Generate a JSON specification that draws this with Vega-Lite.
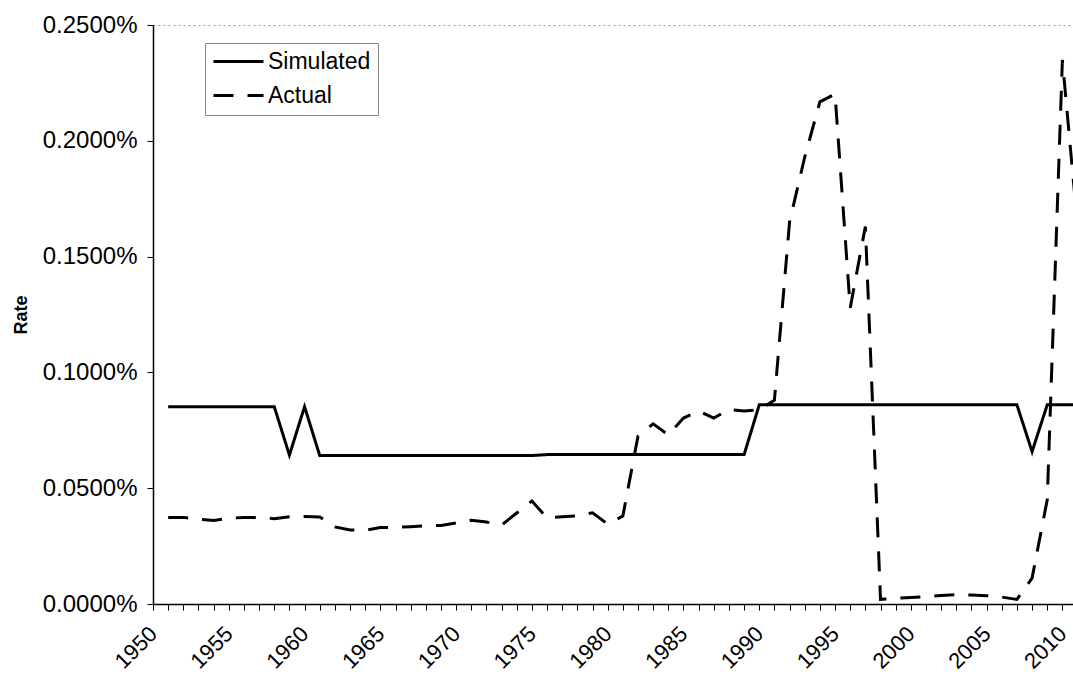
{
  "$schema": "https://vega.github.io/schema/vega-lite/v6.json",
  "width": 920,
  "height": 579,
  "autosize": {"type": "none"},
  "padding": {"left": 153, "top": 25, "right": 0, "bottom": 72},
  "background": "white",
  "config": {
    "view": {"stroke": "#9a9a9a", "strokeDash": [2, 3], "strokeWidth": 1},
    "font": "Liberation Sans"
  },
  "data": {
    "values": [
      {"year": 1951, "series": "Simulated", "rate": 0.0852},
      {"year": 1952, "series": "Simulated", "rate": 0.0852},
      {"year": 1953, "series": "Simulated", "rate": 0.0852},
      {"year": 1954, "series": "Simulated", "rate": 0.0852},
      {"year": 1955, "series": "Simulated", "rate": 0.0852},
      {"year": 1956, "series": "Simulated", "rate": 0.0852},
      {"year": 1957, "series": "Simulated", "rate": 0.0852},
      {"year": 1958, "series": "Simulated", "rate": 0.0852},
      {"year": 1959, "series": "Simulated", "rate": 0.0643},
      {"year": 1960, "series": "Simulated", "rate": 0.0852},
      {"year": 1961, "series": "Simulated", "rate": 0.0641},
      {"year": 1962, "series": "Simulated", "rate": 0.0641},
      {"year": 1963, "series": "Simulated", "rate": 0.0641},
      {"year": 1964, "series": "Simulated", "rate": 0.0641},
      {"year": 1965, "series": "Simulated", "rate": 0.0641},
      {"year": 1966, "series": "Simulated", "rate": 0.0641},
      {"year": 1967, "series": "Simulated", "rate": 0.0641},
      {"year": 1968, "series": "Simulated", "rate": 0.0641},
      {"year": 1969, "series": "Simulated", "rate": 0.0641},
      {"year": 1970, "series": "Simulated", "rate": 0.0641},
      {"year": 1971, "series": "Simulated", "rate": 0.0641},
      {"year": 1972, "series": "Simulated", "rate": 0.0641},
      {"year": 1973, "series": "Simulated", "rate": 0.0641},
      {"year": 1974, "series": "Simulated", "rate": 0.0641},
      {"year": 1975, "series": "Simulated", "rate": 0.0641},
      {"year": 1976, "series": "Simulated", "rate": 0.0645},
      {"year": 1977, "series": "Simulated", "rate": 0.0645},
      {"year": 1978, "series": "Simulated", "rate": 0.0645},
      {"year": 1979, "series": "Simulated", "rate": 0.0645},
      {"year": 1980, "series": "Simulated", "rate": 0.0645},
      {"year": 1981, "series": "Simulated", "rate": 0.0645},
      {"year": 1982, "series": "Simulated", "rate": 0.0645},
      {"year": 1983, "series": "Simulated", "rate": 0.0645},
      {"year": 1984, "series": "Simulated", "rate": 0.0645},
      {"year": 1985, "series": "Simulated", "rate": 0.0645},
      {"year": 1986, "series": "Simulated", "rate": 0.0645},
      {"year": 1987, "series": "Simulated", "rate": 0.0645},
      {"year": 1988, "series": "Simulated", "rate": 0.0645},
      {"year": 1989, "series": "Simulated", "rate": 0.0645},
      {"year": 1990, "series": "Simulated", "rate": 0.0860},
      {"year": 1991, "series": "Simulated", "rate": 0.0860},
      {"year": 1992, "series": "Simulated", "rate": 0.0860},
      {"year": 1993, "series": "Simulated", "rate": 0.0860},
      {"year": 1994, "series": "Simulated", "rate": 0.0860},
      {"year": 1995, "series": "Simulated", "rate": 0.0860},
      {"year": 1996, "series": "Simulated", "rate": 0.0860},
      {"year": 1997, "series": "Simulated", "rate": 0.0860},
      {"year": 1998, "series": "Simulated", "rate": 0.0860},
      {"year": 1999, "series": "Simulated", "rate": 0.0860},
      {"year": 2000, "series": "Simulated", "rate": 0.0860},
      {"year": 2001, "series": "Simulated", "rate": 0.0860},
      {"year": 2002, "series": "Simulated", "rate": 0.0860},
      {"year": 2003, "series": "Simulated", "rate": 0.0860},
      {"year": 2004, "series": "Simulated", "rate": 0.0860},
      {"year": 2005, "series": "Simulated", "rate": 0.0860},
      {"year": 2006, "series": "Simulated", "rate": 0.0860},
      {"year": 2007, "series": "Simulated", "rate": 0.0860},
      {"year": 2008, "series": "Simulated", "rate": 0.0658},
      {"year": 2009, "series": "Simulated", "rate": 0.0860},
      {"year": 2010, "series": "Simulated", "rate": 0.0860},
      {"year": 2011, "series": "Simulated", "rate": 0.0860},
      {"year": 1951, "series": "Actual", "rate": 0.0374},
      {"year": 1952, "series": "Actual", "rate": 0.0374},
      {"year": 1953, "series": "Actual", "rate": 0.0366},
      {"year": 1954, "series": "Actual", "rate": 0.0361},
      {"year": 1955, "series": "Actual", "rate": 0.0370},
      {"year": 1956, "series": "Actual", "rate": 0.0374},
      {"year": 1957, "series": "Actual", "rate": 0.0374},
      {"year": 1958, "series": "Actual", "rate": 0.0368},
      {"year": 1959, "series": "Actual", "rate": 0.0377},
      {"year": 1960, "series": "Actual", "rate": 0.0378},
      {"year": 1961, "series": "Actual", "rate": 0.0376},
      {"year": 1962, "series": "Actual", "rate": 0.0333},
      {"year": 1963, "series": "Actual", "rate": 0.0320},
      {"year": 1964, "series": "Actual", "rate": 0.0318},
      {"year": 1965, "series": "Actual", "rate": 0.0330},
      {"year": 1966, "series": "Actual", "rate": 0.0331},
      {"year": 1967, "series": "Actual", "rate": 0.0334},
      {"year": 1968, "series": "Actual", "rate": 0.0338},
      {"year": 1969, "series": "Actual", "rate": 0.0339},
      {"year": 1970, "series": "Actual", "rate": 0.0350},
      {"year": 1971, "series": "Actual", "rate": 0.0362},
      {"year": 1972, "series": "Actual", "rate": 0.0354},
      {"year": 1973, "series": "Actual", "rate": 0.0341},
      {"year": 1974, "series": "Actual", "rate": 0.0393},
      {"year": 1975, "series": "Actual", "rate": 0.0445},
      {"year": 1976, "series": "Actual", "rate": 0.0371},
      {"year": 1977, "series": "Actual", "rate": 0.0377},
      {"year": 1978, "series": "Actual", "rate": 0.0380},
      {"year": 1979, "series": "Actual", "rate": 0.0394},
      {"year": 1980, "series": "Actual", "rate": 0.0345},
      {"year": 1981, "series": "Actual", "rate": 0.0380},
      {"year": 1982, "series": "Actual", "rate": 0.0725},
      {"year": 1983, "series": "Actual", "rate": 0.0778},
      {"year": 1984, "series": "Actual", "rate": 0.0730},
      {"year": 1985, "series": "Actual", "rate": 0.0803},
      {"year": 1986, "series": "Actual", "rate": 0.0833},
      {"year": 1987, "series": "Actual", "rate": 0.0803},
      {"year": 1988, "series": "Actual", "rate": 0.0840},
      {"year": 1989, "series": "Actual", "rate": 0.0833},
      {"year": 1990, "series": "Actual", "rate": 0.0838},
      {"year": 1991, "series": "Actual", "rate": 0.0880},
      {"year": 1992, "series": "Actual", "rate": 0.1650},
      {"year": 1993, "series": "Actual", "rate": 0.1930},
      {"year": 1994, "series": "Actual", "rate": 0.2168},
      {"year": 1995, "series": "Actual", "rate": 0.2202},
      {"year": 1996, "series": "Actual", "rate": 0.1278},
      {"year": 1997, "series": "Actual", "rate": 0.1630},
      {"year": 1998, "series": "Actual", "rate": 0.0020},
      {"year": 1999, "series": "Actual", "rate": 0.0025},
      {"year": 2000, "series": "Actual", "rate": 0.0028},
      {"year": 2001, "series": "Actual", "rate": 0.0032},
      {"year": 2002, "series": "Actual", "rate": 0.0037},
      {"year": 2003, "series": "Actual", "rate": 0.0040},
      {"year": 2004, "series": "Actual", "rate": 0.0039},
      {"year": 2005, "series": "Actual", "rate": 0.0036},
      {"year": 2006, "series": "Actual", "rate": 0.0030},
      {"year": 2007, "series": "Actual", "rate": 0.0020},
      {"year": 2008, "series": "Actual", "rate": 0.0112},
      {"year": 2009, "series": "Actual", "rate": 0.0450},
      {"year": 2010, "series": "Actual", "rate": 0.2349},
      {"year": 2011, "series": "Actual", "rate": 0.1630}
    ]
  },
  "mark": {"type": "line", "strokeWidth": 3, "color": "black", "clip": true},
  "encoding": {
    "x": {
      "field": "year",
      "type": "quantitative",
      "scale": {"domain": [1950, 2010.7], "nice": false, "zero": false},
      "axis": {
        "title": null,
        "grid": false,
        "values": [1950,1951,1952,1953,1954,1955,1956,1957,1958,1959,1960,1961,1962,1963,1964,1965,1966,1967,1968,1969,1970,1971,1972,1973,1974,1975,1976,1977,1978,1979,1980,1981,1982,1983,1984,1985,1986,1987,1988,1989,1990,1991,1992,1993,1994,1995,1996,1997,1998,1999,2000,2001,2002,2003,2004,2005,2006,2007,2008,2009,2010],
        "labelExpr": "datum.value % 5 === 0 ? '' + datum.value : ''",
        "labelAngle": -45,
        "labelAlign": "right",
        "labelBaseline": "middle",
        "labelFontSize": 22,
        "labelColor": "black",
        "labelPadding": 20,
        "labelOverlap": false,
        "labelFlush": false,
        "labelBound": false,
        "tickSize": 6,
        "tickColor": "black",
        "tickWidth": 1,
        "domainColor": "black",
        "domainWidth": 1.5
      }
    },
    "y": {
      "field": "rate",
      "type": "quantitative",
      "scale": {"domain": [0, 0.25], "nice": false},
      "axis": {
        "title": "Rate",
        "titleFontSize": 18,
        "titleFontWeight": "bold",
        "titleColor": "black",
        "titlePadding": 12,
        "grid": false,
        "values": [0, 0.05, 0.1, 0.15, 0.2, 0.25],
        "labelExpr": "format(datum.value, '.4f') + '%'",
        "labelFontSize": 24,
        "labelColor": "black",
        "labelPadding": 10,
        "tickSize": 6,
        "tickColor": "black",
        "domainColor": "black",
        "domainWidth": 1.5
      }
    },
    "strokeDash": {
      "field": "series",
      "type": "nominal",
      "scale": {"domain": ["Simulated", "Actual"], "range": [[1, 0], [20, 14]]},
      "legend": {
        "title": null,
        "orient": "none",
        "legendX": 52,
        "legendY": 18,
        "direction": "vertical",
        "strokeColor": "#888888",
        "padding": 7,
        "symbolType": "M-2.5,0L2.5,0",
        "symbolSize": 400,
        "symbolOffset": 15,
        "symbolStrokeWidth": 3,
        "symbolStrokeColor": "black",
        "labelFontSize": 23,
        "labelColor": "black",
        "labelOffset": 18,
        "rowPadding": 10
      }
    }
  }
}
